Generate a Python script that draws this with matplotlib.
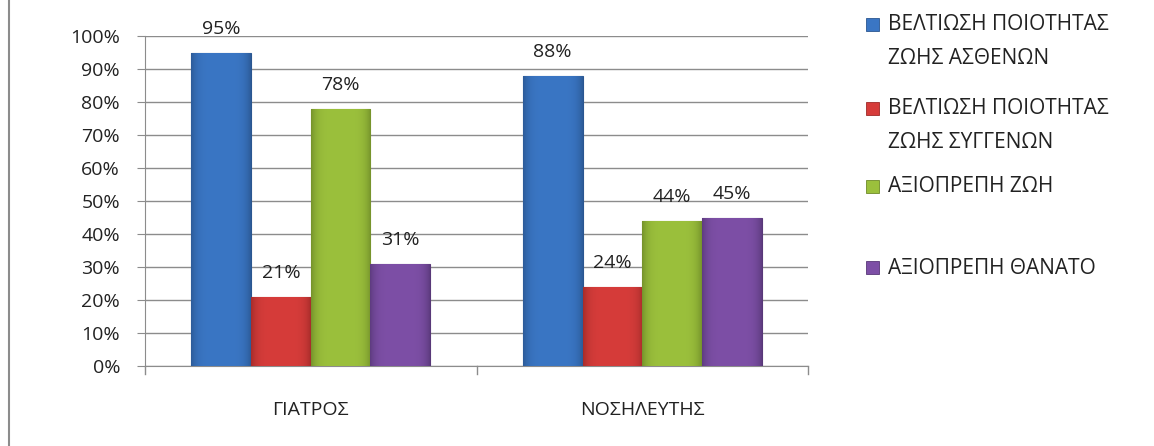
import numpy as np
import matplotlib.pyplot as plt
from matplotlib.colors import to_rgb
from matplotlib.patches import Rectangle

plt.rcParams['font.family'] = ['Open Sans', 'DejaVu Sans']

categories = ['ΓΙΑΤΡΟΣ', 'ΝΟΣΗΛΕΥΤΗΣ']
series_names = [['ΒΕΛΤΙΩΣΗ ΠΟΙΟΤΗΤΑΣ', 'ΖΩΗΣ ΑΣΘΕΝΩΝ'],
                ['ΒΕΛΤΙΩΣΗ ΠΟΙΟΤΗΤΑΣ', 'ΖΩΗΣ ΣΥΓΓΕΝΩΝ'],
                ['ΑΞΙΟΠΡΕΠΗ ΖΩΗ'],
                ['ΑΞΙΟΠΡΕΠΗ ΘΑΝΑΤΟ']]
values = [
    [95, 88],
    [21, 24],
    [78, 44],
    [31, 45],
]
colors = ['#3A76C4', '#D63C3A', '#9BC03C', '#7D4FA6']
edges = ['#2A5690', '#9E2A28', '#6E8A28', '#583878']
yticks = [0, 10, 20, 30, 40, 50, 60, 70, 80, 90, 100]

W, H = 1154, 446
fs = 14

fig = plt.figure(figsize=(W / 100, H / 100), dpi=100)
ax = fig.add_axes([145 / W, 1 - 366 / H, 663 / W, 330 / H])


def shade(c, e):
    # horizontal gradient: darker at the sides, lighter in the middle
    c = np.array(to_rgb(c))
    e = np.array(to_rgb(e))
    t = np.linspace(-1, 1, 60)
    w = np.abs(t) ** 5 * 0.8
    img = c[None, :] * (1 - w[:, None]) + e[None, :] * w[:, None]
    return img[None, :, :]


width = 0.18
x = np.arange(len(categories))
for i, (vals, c, e) in enumerate(zip(values, colors, edges)):
    pos = x + (i - 1.5) * width
    bars = ax.bar(pos, vals, width, color=c, edgecolor=e, linewidth=0.8, zorder=3)
    for b, p, v in zip(bars, pos, vals):
        im = ax.imshow(shade(c, e), extent=[p - width / 2, p + width / 2, 0, v],
                       aspect='auto', zorder=3.5, interpolation='bilinear')
        im.set_clip_path(b)
        ax.text(p, v + 4.5, f'{v}%', ha='center', va='bottom', fontsize=fs,
                color='#222222', zorder=4)

ax.set_xlim(-0.5, len(categories) - 0.5)
ax.set_ylim(0, 100)
ax.set_yticks(yticks)
ax.set_yticklabels([f'{t}%' for t in yticks], fontsize=fs, color='#222222')
ax.yaxis.grid(True, color='#8C8C8C', linewidth=1, zorder=0)
ax.set_xticks(x)
ax.set_xticklabels(categories, fontsize=fs, color='#222222')
ax.tick_params(axis='x', length=0, pad=25)
ax.tick_params(axis='y', length=6, color='#8C8C8C', pad=12)
for b in [-0.5, 0.5, 1.5]:
    ax.plot([b, b], [0, -2.4], color='#8C8C8C', lw=1, clip_on=False)
for s in ['top', 'right']:
    ax.spines[s].set_visible(False)
ax.spines['left'].set_color('#8C8C8C')
ax.spines['bottom'].set_color('#8C8C8C')

# legend on the right
leg_y = [25, 109, 187, 268]
line_gap = 34
for name, c, e, yy in zip(series_names, colors, edges, leg_y):
    fig.patches.append(Rectangle((866 / W, 1 - (yy + 6) / H), 13 / W, 13 / H,
                                 transform=fig.transFigure, facecolor=c,
                                 edgecolor=e, linewidth=0.6))
    for k, line in enumerate(name):
        fig.text(888 / W, 1 - (yy + k * line_gap) / H, line, fontsize=15,
                 color='#222222', va='center', ha='left')

# left border of the chart area
fig.add_artist(plt.Line2D([8.5 / W, 8.5 / W], [0, 1], color='#8C8C8C',
                          lw=1.5, transform=fig.transFigure))

fig.savefig('out.png', dpi=100)
